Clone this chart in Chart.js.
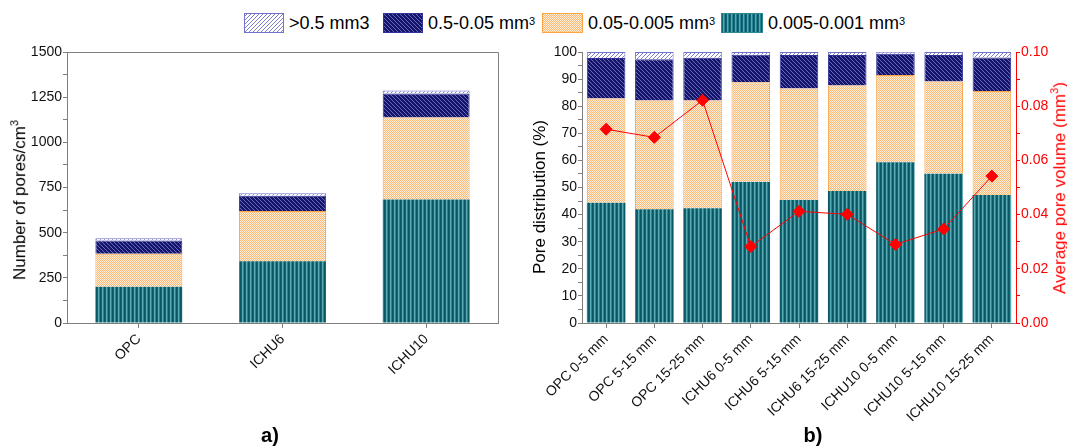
<!DOCTYPE html>
<html>
<head>
<meta charset="utf-8">
<script src="https://cdn.jsdelivr.net/npm/chart.js@4.4.1/dist/chart.umd.min.js"></script>
<style>
    body {
        margin: 0;
        width: 1067px;
        height: 446px;
        background: #ffffff;
        position: relative;
        overflow: hidden;
        font-family: "Liberation Sans", Arial, sans-serif;
        color: #000;
    }
    canvas.chart { position: absolute; top: 0; }
    .legend-item { position: absolute; top: 13px; height: 20px; display: flex; align-items: center; white-space: nowrap; font-size: 18px; }
    .legend-item canvas { margin-right: 5px; display: block; }
    .legend-item sup { font-size: 11px; position: relative; top: -2px; }
    .axis-title { position: absolute; white-space: nowrap; font-size: 17px; transform: translate(-50%, -50%) rotate(-90deg); }
    .axis-title sup { font-size: 11px; }
    .panel-tag { position: absolute; font-size: 20px; font-weight: bold; transform: translate(-50%, -50%); }
</style>
</head>
<body>

<div class="legend-item" style="left:244px"><canvas id="swLarge" width="40" height="20"></canvas>&gt;0.5 mm3</div>
<div class="legend-item" style="left:383px"><canvas id="swCoarse" width="40" height="20"></canvas>0.5-0.05 mm<sup>3</sup></div>
<div class="legend-item" style="left:542px"><canvas id="swMid" width="41" height="20"></canvas>0.05-0.005 mm<sup>3</sup></div>
<div class="legend-item" style="left:721px"><canvas id="swFine" width="42" height="20"></canvas>0.005-0.001 mm<sup>3</sup></div>

<canvas id="chartA" class="chart" width="520" height="446" style="left:0"></canvas>
<canvas id="chartB" class="chart" width="547" height="446" style="left:520px"></canvas>

<div class="axis-title" style="left:19px; top:200px">Number of pores/cm<sup>3</sup></div>
<div class="axis-title" style="left:540px; top:197px">Pore distribution (%)</div>
<div class="axis-title" style="left:1059px; top:188px; color:#ff0000">Average pore volume (mm<sup>3</sup>)</div>

<div class="panel-tag" style="left:270px; top:435px">a)</div>
<div class="panel-tag" style="left:813px; top:435px">b)</div>

<script>
// panel a) - number of pores per cm3
const mixes = ['OPC', 'ICHU6', 'ICHU10'];
const countFine = [200, 342, 683];     // 0.005-0.001 mm3
const countMid = [183, 278, 454];      // 0.05-0.005 mm3
const countCoarse = [73, 85, 133];     // 0.5-0.05 mm3
const countLarge = [13, 13, 17];       // >0.5 mm3

// panel b) - distribution by depth
const depths = ['OPC 0-5 mm', 'OPC 5-15 mm', 'OPC 15-25 mm',
    'ICHU6 0-5 mm', 'ICHU6 5-15 mm', 'ICHU6 15-25 mm',
    'ICHU10 0-5 mm', 'ICHU10 5-15 mm', 'ICHU10 15-25 mm'];
const pctFine = [44.4, 42.0, 42.3, 52.0, 45.4, 48.7, 59.3, 55.1, 47.2];
const pctMid = [38.4, 40.1, 39.8, 36.8, 41.1, 38.9, 32.2, 34.0, 38.4];
const pctCoarse = [15.0, 15.2, 15.8, 10.2, 12.4, 11.3, 7.9, 9.8, 12.4];
const pctLarge = [2.2, 2.7, 2.1, 1.0, 1.1, 1.1, 0.6, 1.1, 2.0];
const avgVolume = [0.0715, 0.0685, 0.0822, 0.0282, 0.0412, 0.0401, 0.0290, 0.0347, 0.0542];

const AXIS = '#7f7f7f';
const RED = '#ff0000';
const FONT = 'Liberation Sans';

// fill patterns imitating the Origin hatches
function makePattern(size, paint) {
    const c = document.createElement('canvas');
    c.width = size;
    c.height = size;
    const g = c.getContext('2d');
    paint(g);
    return g.createPattern(c, 'repeat');
}

const Patterns = {
    fine: makePattern(4, g => {
        ['#0a5866', '#0e6674', '#5aaab4', '#2a8491'].forEach((col, i) => {
            g.fillStyle = col;
            g.fillRect(i, 0, 1, 4);
        });
    }),
    mid: makePattern(2, g => {
        g.fillStyle = '#fff0de';
        g.fillRect(0, 0, 2, 2);
        g.fillStyle = '#fdb877';
        g.fillRect(0, 0, 1, 1);
        g.fillRect(1, 1, 1, 1);
    }),
    coarse: makePattern(4, g => {
        g.fillStyle = '#15156c';
        g.fillRect(0, 0, 4, 4);
        g.fillStyle = '#6868b8';
        for (let i = 0; i < 4; i++) g.fillRect(i, i, 1, 1);
    }),
    large: makePattern(4, g => {
        g.fillStyle = '#ffffff';
        g.fillRect(0, 0, 4, 4);
        g.fillStyle = '#7c7cd2';
        for (let i = 0; i < 4; i++) g.fillRect(3 - i, i, 1, 1);
    })
};

const Borders = {
    fine: '#2f8896',
    mid: '#f9a546',
    coarse: '#30309a',
    large: '#7272c8'
};

function paintSwatch(id, key) {
    const c = document.getElementById(id);
    const g = c.getContext('2d');
    g.fillStyle = Patterns[key];
    g.fillRect(0, 0, c.width, c.height);
    g.strokeStyle = Borders[key];
    g.lineWidth = 1;
    g.strokeRect(0.5, 0.5, c.width - 1, c.height - 1);
}
paintSwatch('swLarge', 'large');
paintSwatch('swCoarse', 'coarse');
paintSwatch('swMid', 'mid');
paintSwatch('swFine', 'fine');

function barSet(label, data, key, barPct) {
    return {
        type: 'bar',
        label: label,
        data: data,
        backgroundColor: Patterns[key],
        borderColor: Borders[key],
        borderWidth: key === 'fine' ? 0 : 1,
        barPercentage: barPct,
        categoryPercentage: 1,
        yAxisID: 'y',
        order: 1
    };
}

function categoryAxis() {
    return {
        stacked: true,
        grid: { drawOnChartArea: false, offset: false, tickLength: 5, color: AXIS },
        border: { color: AXIS, width: 1 },
        ticks: {
            minRotation: 45,
            maxRotation: 45,
            autoSkip: false,
            padding: 3,
            color: '#111',
            font: { family: FONT, size: 14 }
        },
        afterFit(scale) { scale.height = 123; }
    };
}

function valueAxis(max, step, every, width, fmt) {
    return {
        stacked: true,
        min: 0,
        max: max,
        grid: { drawOnChartArea: false, tickLength: 4, color: AXIS },
        border: { color: AXIS, width: 1 },
        ticks: {
            stepSize: step,
            autoSkip: false,
            padding: 1,
            color: '#111',
            font: { family: FONT, size: 14 },
            callback: v => (Math.round(v / step) % every === 0 ? fmt(v) : '')
        },
        afterFit(scale) { scale.width = width; }
    };
}

// top and right edges of the frame on panel a)
const framePlugin = {
    id: 'frame',
    afterDraw(chart) {
        const { ctx, chartArea: a } = chart;
        ctx.save();
        ctx.strokeStyle = AXIS;
        ctx.lineWidth = 1;
        ctx.beginPath();
        ctx.moveTo(a.left, a.top + 0.5);
        ctx.lineTo(a.right + 0.5, a.top + 0.5);
        ctx.lineTo(a.right + 0.5, a.bottom);
        ctx.stroke();
        ctx.restore();
    }
};

const commonPlugins = { legend: { display: false }, tooltip: { enabled: false } };

new Chart(document.getElementById('chartA'), {
    type: 'bar',
    data: {
        labels: mixes,
        datasets: [
            barSet('0.005-0.001 mm3', countFine, 'fine', 0.605),
            barSet('0.05-0.005 mm3', countMid, 'mid', 0.605),
            barSet('0.5-0.05 mm3', countCoarse, 'coarse', 0.605),
            barSet('>0.5 mm3', countLarge, 'large', 0.605)
        ]
    },
    options: {
        responsive: false,
        animation: false,
        layout: { padding: { left: 0, right: 22, top: 52, bottom: 0 } },
        plugins: commonPlugins,
        scales: {
            x: categoryAxis(),
            y: valueAxis(1500, 125, 2, 67, v => String(v))
        }
    },
    plugins: [framePlugin]
});

const rightAxis = valueAxis(0.1, 0.01, 2, 51, v => v.toFixed(2));
rightAxis.stacked = false;
rightAxis.position = 'right';
rightAxis.grid.color = RED;
rightAxis.border.color = RED;
rightAxis.ticks.color = RED;

new Chart(document.getElementById('chartB'), {
    type: 'bar',
    data: {
        labels: depths,
        datasets: [
            barSet('0.005-0.001 mm3', pctFine, 'fine', 0.8),
            barSet('0.05-0.005 mm3', pctMid, 'mid', 0.8),
            barSet('0.5-0.05 mm3', pctCoarse, 'coarse', 0.8),
            barSet('>0.5 mm3', pctLarge, 'large', 0.8),
            {
                type: 'line',
                label: 'Average pore volume',
                data: avgVolume,
                yAxisID: 'y1',
                order: 0,
                borderColor: RED,
                borderWidth: 1,
                backgroundColor: RED,
                pointStyle: 'rectRot',
                pointRadius: 6,
                pointBackgroundColor: RED,
                pointBorderColor: RED,
                tension: 0
            }
        ]
    },
    options: {
        responsive: false,
        animation: false,
        layout: { padding: { left: 0, right: 0, top: 52, bottom: 0 } },
        plugins: commonPlugins,
        scales: {
            x: categoryAxis(),
            y: valueAxis(100, 5, 2, 62, v => String(v)),
            y1: rightAxis
        }
    }
});
</script>
</body>
</html>
